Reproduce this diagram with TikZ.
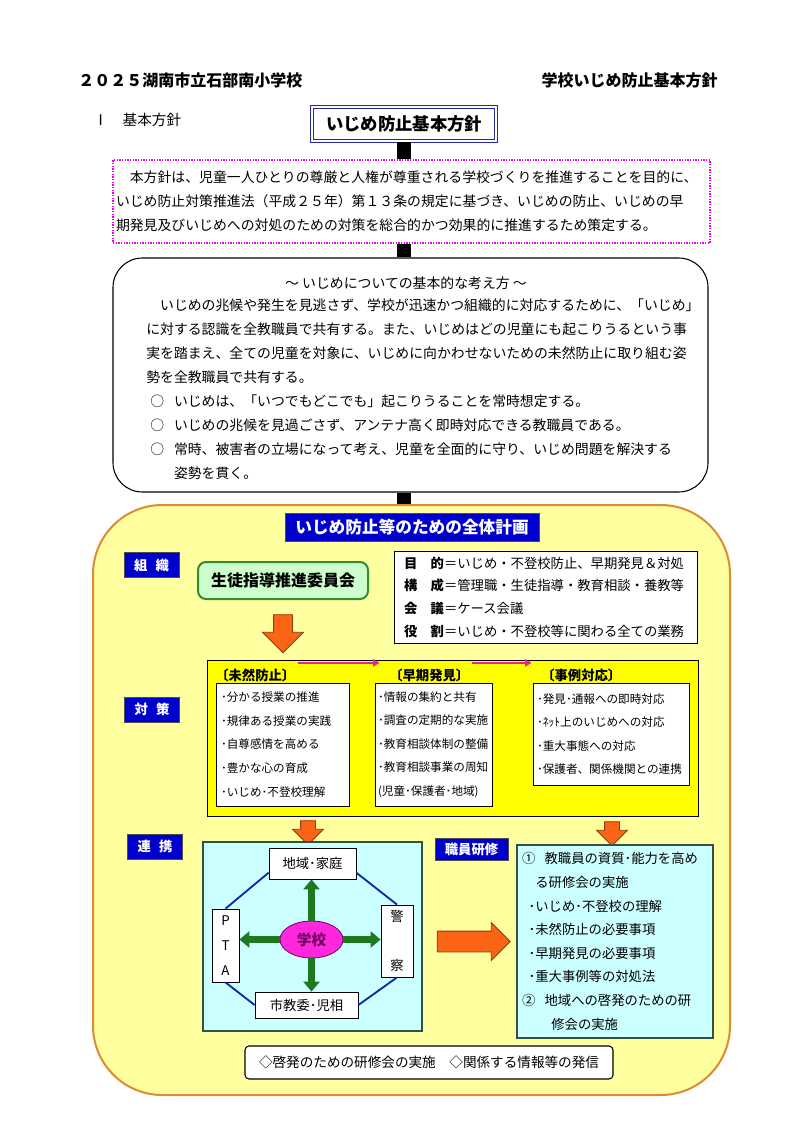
\documentclass[tikz,border=0pt]{standalone}
\usepackage{fontspec}
\setmainfont{Noto Sans CJK JP}
\usetikzlibrary{positioning,shapes.geometric,shapes.arrows,arrows.meta}
\setlength{\parindent}{0pt}

\definecolor{planyellow}{RGB}{255,255,160}
\definecolor{planedge}{RGB}{222,140,50}
\definecolor{tagblue}{RGB}{0,0,205}
\definecolor{titleblue}{RGB}{40,40,160}
\definecolor{boardgreen}{RGB}{204,255,204}
\definecolor{boardedge}{RGB}{50,140,50}
\definecolor{measyellow}{RGB}{255,255,0}
\definecolor{linkcyan}{RGB}{204,255,255}
\definecolor{linkedge}{RGB}{50,80,70}
\definecolor{arroworange}{RGB}{250,100,20}
\definecolor{arrowedge}{RGB}{140,60,20}
\definecolor{linkgreen}{RGB}{30,120,30}
\definecolor{schoolpink}{RGB}{255,40,220}
\definecolor{schooltext}{RGB}{110,0,100}
\definecolor{ringblue}{RGB}{20,40,170}
\definecolor{dotpink}{RGB}{235,0,235}
\definecolor{flowpink}{RGB}{225,40,140}

\begin{document}
\begin{tikzpicture}[x=0.75pt,y=-0.75pt]

\tikzset{
  trunk/.style={draw=black, line width=11pt},
  tag box/.style={fill=tagblue, draw=black!70, line width=0.6pt, text=white,
    font=\fontsize{10}{12}\selectfont\bfseries, minimum width=41.25pt,
    minimum height=18.75pt, inner sep=0pt},
  white box/.style={fill=white, draw=black, line width=0.6pt, inner sep=0pt},
  measure box/.style={white box, align=left, font=\fontsize{8.7}{17.7}\selectfont},
  area box/.style={white box, font=\fontsize{10}{12}\selectfont},
  measure head/.style={font=\fontsize{10}{12}\selectfont\bfseries, inner sep=0pt, anchor=west},
  block arrow/.style={single arrow, draw=arrowedge, fill=arroworange, line width=0.6pt,
    inner xsep=0pt},
  link arrow/.style={draw=linkgreen, line width=5.5pt, -{Triangle[length=7.5pt,width=12pt]}},
  ring line/.style={draw=ringblue, line width=1.4pt},
  flow arrow/.style={draw=flowpink, line width=1.4pt, -{Triangle[length=5pt,width=5.5pt]},
    shorten <=2pt, shorten >=7pt}
}

\path[use as bounding box, fill=white] (0,0) rectangle (794,1123);

  % Header
  \node[anchor=west, inner sep=0pt, font=\fontsize{12}{14}\selectfont\bfseries] (schoolname) at (78,80) {２０２５湖南市立石部南小学校};
  \node[anchor=east, inner sep=0pt, font=\fontsize{12}{14}\selectfont\bfseries] (doctitle) at (718,80) {学校いじめ防止基本方針};
  \node[anchor=west, inner sep=0pt, font=\fontsize{11}{13}\selectfont] (section) at (93,120) {Ⅰ　基本方針};

  % Basic policy
  \node[draw=titleblue, double=white, double distance=1.2pt, line width=0.9pt, fill=white,
    minimum width=138pt, minimum height=25.5pt, inner sep=0pt,
    font=\fontsize{13}{15}\selectfont\bfseries] (title) at (404,124) {いじめ防止基本方針};

  \node[draw=dotpink, dash pattern=on 1pt off 1pt, line width=1pt, fill=white,
    minimum width=447.75pt, minimum height=62.25pt, text width=443.25pt, align=left,
    inner sep=0pt, font=\fontsize{10.4}{18}\selectfont] (policy) at (411.5,201.5)
    {　本方針は、児童一人ひとりの尊厳と人権が尊重される学校づくりを推進することを目的に、\\
     いじめ防止対策推進法（平成２５年）第１３条の規定に基づき、いじめの防止、いじめの早\\
     期発見及びいじめへの対処のための対策を総合的かつ効果的に推進するため策定する。};

  \node[draw=black, line width=0.8pt, fill=white, rounded corners=22pt,
    minimum width=446.25pt, minimum height=175.5pt] (basic) at (410.5,375) {};
  \node[inner sep=0pt, font=\fontsize{10.4}{12}\selectfont] (ideatitle) at (406,283) {～ いじめについての基本的な考え方 ～};
  \node[anchor=north west, align=left, inner sep=0pt, font=\fontsize{10.4}{18}\selectfont] (ideas) at (146,298)
    {　いじめの兆候や発生を見逃さず、学校が迅速かつ組織的に対応するために、「いじめ」\\
     に対する認識を全教職員で共有する。また、いじめはどの児童にも起こりうるという事\\
     実を踏まえ、全ての児童を対象に、いじめに向かわせないための未然防止に取り組む姿\\
     勢を全教職員で共有する。\\
     \hspace*{0.3em}○\hspace{0.7em}いじめは、「いつでもどこでも」起こりうることを常時想定する。\\
     \hspace*{0.3em}○\hspace{0.7em}いじめの兆候を見過ごさず、アンテナ高く即時対応できる教職員である。\\
     \hspace*{0.3em}○\hspace{0.7em}常時、被害者の立場になって考え、児童を全面的に守り、いじめ問題を解決する\\
     \hspace*{2em}姿勢を貫く。};

  % Overall plan
  \node[draw=planedge, line width=1.5pt, fill=planyellow, rounded corners=52pt,
    minimum width=477.75pt, minimum height=442.5pt] (plan) at (411.5,800) {};

  \draw[trunk] (title.south) -- (title.south |- policy.north);
  \draw[trunk] (title.south |- policy.south) -- (title.south |- basic.north);
  \draw[trunk] (title.south |- basic.south) -- (title.south |- plan.north);

  \node[tag box, minimum width=190.5pt, minimum height=21pt,
    font=\fontsize{12.5}{14}\selectfont\bfseries] (plantitle) at (412,527) {いじめ防止等のための全体計画};

  \node[tag box] (orgtag) at (151.5,565) {組\hspace{0.6em}織};
  \node[tag box] (meastag) at (152,709.5) {対\hspace{0.6em}策};
  \node[tag box] (linktag) at (155,846.5) {連\hspace{0.6em}携};
  \node[tag box, minimum width=54.75pt, minimum height=16.5pt] (traintag) at (471.5,849) {職員研修};

  % Organisation
  \node[draw=boardedge, line width=1.5pt, fill=boardgreen, rounded corners=6pt,
    minimum width=127.5pt, minimum height=27.75pt, inner sep=0pt,
    font=\fontsize{12}{14}\selectfont\bfseries] (board) at (283,580.5) {生徒指導推進委員会};

  \node[white box, minimum width=227.25pt, minimum height=69pt, text width=212.25pt,
    align=left, font=\fontsize{10}{17}\selectfont] (duty) at (545.5,597)
    {{\bfseries 目　的}＝いじめ・不登校防止、早期発見＆対処\\
     {\bfseries 構　成}＝管理職・生徒指導・教育相談・養教等\\
     {\bfseries 会　議}＝ケース会議\\
     {\bfseries 役　割}＝いじめ・不登校等に関わる全ての業務};

  \node[block arrow, rotate=-90, minimum height=28.5pt, inner ysep=6.75pt,
    single arrow head extend=8.25pt] (boarddown) at (283,629) {};

  % Measures
  \node[draw=black, line width=0.7pt, fill=measyellow, minimum width=368.25pt,
    minimum height=117pt] (measures) at (452.5,738) {};

  \node[measure head] (prevhead) at (215,675) {〔未然防止〕};
  \node[measure head] (earlyhead) at (389,675) {〔早期発見〕};
  \node[measure head] (casehead) at (541,675) {〔事例対応〕};
  \draw[flow arrow] ([yshift=4pt]prevhead.north east) -- ([yshift=4pt]earlyhead.north west);
  \draw[flow arrow] ([yshift=4pt]earlyhead.north east) -- ([yshift=4pt]casehead.north west);

  \node[measure box, minimum width=99.75pt, minimum height=92.25pt, text width=92.25pt] (prevent) at (282.5,744.5)
    {･分かる授業の推進\\ ･規律ある授業の実践\\ ･自尊感情を高める\\ ･豊かな心の育成\\ ･いじめ･不登校理解};
  \node[measure box, minimum width=87.75pt, minimum height=92.25pt, text width=83.25pt] (early) at (433.5,744.5)
    {･情報の集約と共有\\ ･調査の定期的な実施\\ ･教育相談体制の整備\\ ･教育相談事業の周知\\ (児童･保護者･地域)};
  \node[measure box, minimum width=117pt, minimum height=76.5pt, text width=111pt] (case) at (611,734)
    {･発見･通報への即時対応\\ ･ﾈｯﾄ上のいじめへの対応\\ ･重大事態への対応\\ ･保護者、関係機関との連携};

  \node[block arrow, rotate=-90, minimum height=18pt, inner ysep=5.25pt,
    single arrow head extend=6pt] (preventdown) at (308,829) {};
  \node[block arrow, rotate=-90, minimum height=18pt, inner ysep=5.25pt,
    single arrow head extend=6pt] (casedown) at (612,830) {};

  % Cooperation
  \node[draw=linkedge, line width=0.8pt, fill=linkcyan, minimum width=164.25pt,
    minimum height=141.75pt] (network) at (312.5,936.5) {};
  \node[area box, minimum width=65.25pt, minimum height=23.25pt] (area) at (312.5,863.5) {地域･家庭};
  \node[area box, minimum width=20.25pt, minimum height=54.75pt, align=center,
    font=\fontsize{10}{18.75}\selectfont] (pta) at (225.5,945.5) {P\\T\\A};
  \node[area box, minimum width=24pt, minimum height=54pt, align=center] (police) at (397,941) {警\\[24.75pt]察};
  \node[area box, minimum width=77.25pt, minimum height=19.5pt] (office) at (306.5,1005) {市教委･児相};
  \node[ellipse, draw=schooltext, line width=0.6pt, fill=schoolpink, text=schooltext,
    minimum width=47.25pt, minimum height=27.75pt, inner sep=0pt,
    font=\fontsize{11}{13}\selectfont\bfseries] (school) at (311.5,939.5) {学校};

  \draw[ring line] ([yshift=5pt]area.south west) -- (pta.north);
  \draw[ring line] ([yshift=5pt]area.south east) -- (police.north);
  \draw[ring line] (pta.south) -- (office.west);
  \draw[ring line] (police.south) -- (office.east);

  \draw[link arrow] (school.north) -- (school.north |- area.south);
  \draw[link arrow] (school.south) -- (school.south |- office.north);
  \draw[link arrow] (school.west) -- (school.west -| pta.east);
  \draw[link arrow] (school.east) -- (school.east -| police.west);

  \node[block arrow, minimum height=54.75pt, inner ysep=7.5pt,
    single arrow head extend=6.4pt] (toward) at (468.5,941.5) {};

  % Staff training
  \node[draw=linkedge, line width=0.8pt, fill=linkcyan, minimum width=147pt,
    minimum height=144.75pt, text width=139.5pt, align=left, inner sep=0pt,
    font=\fontsize{10}{17.7}\selectfont] (training) at (615,941.5)
    {①\hspace{0.7em}教職員の資質･能力を高め\\
     \hspace*{1em}る研修会の実施\\
     \hspace*{0.5em}･いじめ･不登校の理解\\
     \hspace*{0.5em}･未然防止の必要事項\\
     \hspace*{0.5em}･早期発見の必要事項\\
     \hspace*{0.5em}･重大事例等の対処法\\
     ②\hspace{0.7em}地域への啓発のための研\\
     \hspace*{2.2em}修会の実施};

  \node[white box, rounded corners=3pt, line width=0.8pt, minimum width=276pt,
    minimum height=24.75pt, font=\fontsize{10.2}{12}\selectfont] (outreach) at (429,1062.5)
    {◇啓発のための研修会の実施　◇関係する情報等の発信};
\end{tikzpicture}
\end{document}
